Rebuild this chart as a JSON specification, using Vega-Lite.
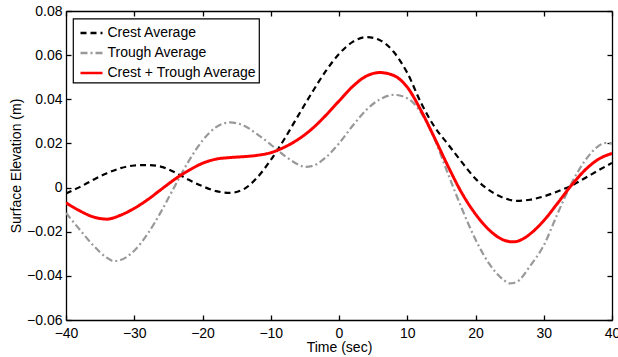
{
  "$schema": "https://vega.github.io/schema/vega-lite/v6.json",
  "autosize": {"type": "none"},
  "width": 546,
  "height": 309,
  "padding": {"left": 66, "top": 11, "right": 6, "bottom": 37},
  "background": "white",
  "config": {
    "view": {"stroke": null},
    "font": "Liberation Sans",
    "axis": {
      "grid": false,
      "domainColor": "black",
      "domainWidth": 1.3,
      "tickColor": "black",
      "tickWidth": 1.3,
      "tickSize": -5,
      "labelFont": "Liberation Sans",
      "labelFontSize": 14,
      "labelColor": "black",
      "titleFont": "Liberation Sans",
      "titleFontSize": 14,
      "titleFontWeight": "normal",
      "titleColor": "black",
      "labelFlush": false,
      "labelOverlap": false
    },
    "legend": {
      "orient": "none",
      "legendX": 7,
      "legendY": 7.5,
      "labelFont": "Liberation Sans",
      "labelFontSize": 14,
      "labelColor": "black",
      "strokeColor": "black",
      "strokeWidth": 1.2,
      "fillColor": "white",
      "padding": 2,
      "symbolSize": 484,
      "rowPadding": -4,
      "symbolOffset": 4,
      "labelOffset": 3.5,
      "symbolType": "stroke",
      "symbolStrokeWidth": 2.4
    }
  },
  "data": {
    "values": [
      {"t": -40, "v": -0.0027, "s": "Crest Average"},
      {"t": -38, "v": 0.0002, "s": "Crest Average"},
      {"t": -36, "v": 0.0035, "s": "Crest Average"},
      {"t": -34, "v": 0.0065, "s": "Crest Average"},
      {"t": -32, "v": 0.0088, "s": "Crest Average"},
      {"t": -30, "v": 0.0100, "s": "Crest Average"},
      {"t": -28, "v": 0.0102, "s": "Crest Average"},
      {"t": -26, "v": 0.0094, "s": "Crest Average"},
      {"t": -24, "v": 0.0068, "s": "Crest Average"},
      {"t": -22, "v": 0.0035, "s": "Crest Average"},
      {"t": -20, "v": 0.0006, "s": "Crest Average"},
      {"t": -18, "v": -0.0016, "s": "Crest Average"},
      {"t": -16, "v": -0.0024, "s": "Crest Average"},
      {"t": -14, "v": -0.0008, "s": "Crest Average"},
      {"t": -12, "v": 0.0045, "s": "Crest Average"},
      {"t": -10, "v": 0.0125, "s": "Crest Average"},
      {"t": -8, "v": 0.0220, "s": "Crest Average"},
      {"t": -6, "v": 0.0325, "s": "Crest Average"},
      {"t": -4, "v": 0.0428, "s": "Crest Average"},
      {"t": -2, "v": 0.0525, "s": "Crest Average"},
      {"t": 0, "v": 0.0605, "s": "Crest Average"},
      {"t": 2, "v": 0.0660, "s": "Crest Average"},
      {"t": 4, "v": 0.0682, "s": "Crest Average"},
      {"t": 6, "v": 0.0668, "s": "Crest Average"},
      {"t": 8, "v": 0.0615, "s": "Crest Average"},
      {"t": 10, "v": 0.0520, "s": "Crest Average"},
      {"t": 12, "v": 0.0385, "s": "Crest Average"},
      {"t": 14, "v": 0.0275, "s": "Crest Average"},
      {"t": 16, "v": 0.0195, "s": "Crest Average"},
      {"t": 18, "v": 0.0115, "s": "Crest Average"},
      {"t": 20, "v": 0.0040, "s": "Crest Average"},
      {"t": 22, "v": -0.0012, "s": "Crest Average"},
      {"t": 24, "v": -0.0045, "s": "Crest Average"},
      {"t": 26, "v": -0.0060, "s": "Crest Average"},
      {"t": 28, "v": -0.0055, "s": "Crest Average"},
      {"t": 30, "v": -0.0040, "s": "Crest Average"},
      {"t": 32, "v": -0.0018, "s": "Crest Average"},
      {"t": 34, "v": 0.0008, "s": "Crest Average"},
      {"t": 36, "v": 0.0042, "s": "Crest Average"},
      {"t": 38, "v": 0.0078, "s": "Crest Average"},
      {"t": 40, "v": 0.0112, "s": "Crest Average"},

      {"t": -40, "v": -0.0115, "s": "Trough Average"},
      {"t": -38, "v": -0.0190, "s": "Trough Average"},
      {"t": -36, "v": -0.0262, "s": "Trough Average"},
      {"t": -34, "v": -0.0318, "s": "Trough Average"},
      {"t": -33, "v": -0.0333, "s": "Trough Average"},
      {"t": -32, "v": -0.0328, "s": "Trough Average"},
      {"t": -30, "v": -0.0286, "s": "Trough Average"},
      {"t": -28, "v": -0.0208, "s": "Trough Average"},
      {"t": -26, "v": -0.0105, "s": "Trough Average"},
      {"t": -24, "v": 0.0010, "s": "Trough Average"},
      {"t": -22, "v": 0.0121, "s": "Trough Average"},
      {"t": -20, "v": 0.0213, "s": "Trough Average"},
      {"t": -18, "v": 0.0274, "s": "Trough Average"},
      {"t": -16, "v": 0.0295, "s": "Trough Average"},
      {"t": -14, "v": 0.0282, "s": "Trough Average"},
      {"t": -12, "v": 0.0242, "s": "Trough Average"},
      {"t": -10, "v": 0.0195, "s": "Trough Average"},
      {"t": -8, "v": 0.0145, "s": "Trough Average"},
      {"t": -6, "v": 0.0105, "s": "Trough Average"},
      {"t": -5, "v": 0.0094, "s": "Trough Average"},
      {"t": -4, "v": 0.0097, "s": "Trough Average"},
      {"t": -2, "v": 0.0135, "s": "Trough Average"},
      {"t": 0, "v": 0.0200, "s": "Trough Average"},
      {"t": 2, "v": 0.0280, "s": "Trough Average"},
      {"t": 4, "v": 0.0352, "s": "Trough Average"},
      {"t": 6, "v": 0.0400, "s": "Trough Average"},
      {"t": 8, "v": 0.0420, "s": "Trough Average"},
      {"t": 10, "v": 0.0405, "s": "Trough Average"},
      {"t": 12, "v": 0.0340, "s": "Trough Average"},
      {"t": 14, "v": 0.0220, "s": "Trough Average"},
      {"t": 16, "v": 0.0060, "s": "Trough Average"},
      {"t": 18, "v": -0.0095, "s": "Trough Average"},
      {"t": 20, "v": -0.0235, "s": "Trough Average"},
      {"t": 22, "v": -0.0345, "s": "Trough Average"},
      {"t": 24, "v": -0.0415, "s": "Trough Average"},
      {"t": 25, "v": -0.0434, "s": "Trough Average"},
      {"t": 26, "v": -0.0428, "s": "Trough Average"},
      {"t": 28, "v": -0.0355, "s": "Trough Average"},
      {"t": 30, "v": -0.0262, "s": "Trough Average"},
      {"t": 32, "v": -0.0120, "s": "Trough Average"},
      {"t": 34, "v": 0.0015, "s": "Trough Average"},
      {"t": 36, "v": 0.0120, "s": "Trough Average"},
      {"t": 38, "v": 0.0188, "s": "Trough Average"},
      {"t": 39, "v": 0.0202, "s": "Trough Average"},
      {"t": 40, "v": 0.0200, "s": "Trough Average"},

      {"t": -40, "v": -0.0069, "s": "Crest + Trough Average"},
      {"t": -38, "v": -0.0105, "s": "Crest + Trough Average"},
      {"t": -36, "v": -0.0133, "s": "Crest + Trough Average"},
      {"t": -34, "v": -0.0143, "s": "Crest + Trough Average"},
      {"t": -32, "v": -0.0125, "s": "Crest + Trough Average"},
      {"t": -30, "v": -0.0094, "s": "Crest + Trough Average"},
      {"t": -28, "v": -0.0054, "s": "Crest + Trough Average"},
      {"t": -26, "v": -0.0007, "s": "Crest + Trough Average"},
      {"t": -24, "v": 0.0039, "s": "Crest + Trough Average"},
      {"t": -22, "v": 0.0078, "s": "Crest + Trough Average"},
      {"t": -20, "v": 0.0110, "s": "Crest + Trough Average"},
      {"t": -18, "v": 0.0129, "s": "Crest + Trough Average"},
      {"t": -16, "v": 0.0136, "s": "Crest + Trough Average"},
      {"t": -14, "v": 0.0140, "s": "Crest + Trough Average"},
      {"t": -12, "v": 0.0146, "s": "Crest + Trough Average"},
      {"t": -10, "v": 0.0158, "s": "Crest + Trough Average"},
      {"t": -8, "v": 0.0183, "s": "Crest + Trough Average"},
      {"t": -6, "v": 0.0218, "s": "Crest + Trough Average"},
      {"t": -4, "v": 0.0265, "s": "Crest + Trough Average"},
      {"t": -2, "v": 0.0325, "s": "Crest + Trough Average"},
      {"t": 0, "v": 0.0392, "s": "Crest + Trough Average"},
      {"t": 2, "v": 0.0458, "s": "Crest + Trough Average"},
      {"t": 4, "v": 0.0505, "s": "Crest + Trough Average"},
      {"t": 6, "v": 0.0521, "s": "Crest + Trough Average"},
      {"t": 8, "v": 0.0508, "s": "Crest + Trough Average"},
      {"t": 10, "v": 0.0455, "s": "Crest + Trough Average"},
      {"t": 12, "v": 0.0350, "s": "Crest + Trough Average"},
      {"t": 14, "v": 0.0225, "s": "Crest + Trough Average"},
      {"t": 16, "v": 0.0095, "s": "Crest + Trough Average"},
      {"t": 18, "v": -0.0025, "s": "Crest + Trough Average"},
      {"t": 20, "v": -0.0120, "s": "Crest + Trough Average"},
      {"t": 22, "v": -0.0192, "s": "Crest + Trough Average"},
      {"t": 24, "v": -0.0236, "s": "Crest + Trough Average"},
      {"t": 25.5, "v": -0.0246, "s": "Crest + Trough Average"},
      {"t": 27, "v": -0.0232, "s": "Crest + Trough Average"},
      {"t": 28, "v": -0.0210, "s": "Crest + Trough Average"},
      {"t": 30, "v": -0.0150, "s": "Crest + Trough Average"},
      {"t": 32, "v": -0.0072, "s": "Crest + Trough Average"},
      {"t": 34, "v": 0.0008, "s": "Crest + Trough Average"},
      {"t": 36, "v": 0.0078, "s": "Crest + Trough Average"},
      {"t": 38, "v": 0.0128, "s": "Crest + Trough Average"},
      {"t": 40, "v": 0.0155, "s": "Crest + Trough Average"}
    ]
  },
  "resolve": {"axis": {"x": "independent", "y": "independent"}},
  "layer": [
    {
      "mark": {"type": "line", "interpolate": "monotone", "clip": true},
      "encoding": {
        "x": {
          "field": "t", "type": "quantitative",
          "scale": {"domain": [-40, 40], "nice": false, "zero": false},
          "axis": {"orient": "bottom", "title": "Time (sec)", "values": [-40, -30, -20, -10, 0, 10, 20, 30, 40], "labelPadding": 11, "titlePadding": 0}
        },
        "y": {
          "field": "v", "type": "quantitative",
          "scale": {"domain": [-0.06, 0.08], "nice": false, "zero": false},
          "axis": {"orient": "left", "title": "Surface Elevation (m)", "values": [-0.06, -0.04, -0.02, 0, 0.02, 0.04, 0.06, 0.08], "labelExpr": "datum.value == 0 ? '0' : format(datum.value, '.2f')", "labelPadding": 9, "titlePadding": 3}
        },
        "color": {
          "field": "s", "type": "nominal",
          "scale": {"domain": ["Crest Average", "Trough Average", "Crest + Trough Average"], "range": ["#000000", "#999999", "#ff0000"]},
          "legend": {"title": null}
        },
        "strokeDash": {
          "field": "s", "type": "nominal",
          "scale": {"domain": ["Crest Average", "Trough Average", "Crest + Trough Average"], "range": [[6, 4], [7, 3, 2, 3], [1, 0]]},
          "legend": {"title": null}
        },
        "strokeWidth": {
          "condition": {"test": "datum.s == 'Crest + Trough Average'", "value": 3},
          "value": 2.2
        }
      }
    },
    {
      "mark": {"type": "line", "opacity": 0},
      "encoding": {
        "x": {
          "field": "t", "type": "quantitative",
          "axis": {"orient": "top", "title": null, "labels": false, "values": [-40, -30, -20, -10, 0, 10, 20, 30, 40]}
        },
        "y": {
          "field": "v", "type": "quantitative",
          "axis": {"orient": "right", "title": null, "labels": false, "values": [-0.06, -0.04, -0.02, 0, 0.02, 0.04, 0.06, 0.08]}
        }
      }
    }
  ]
}
